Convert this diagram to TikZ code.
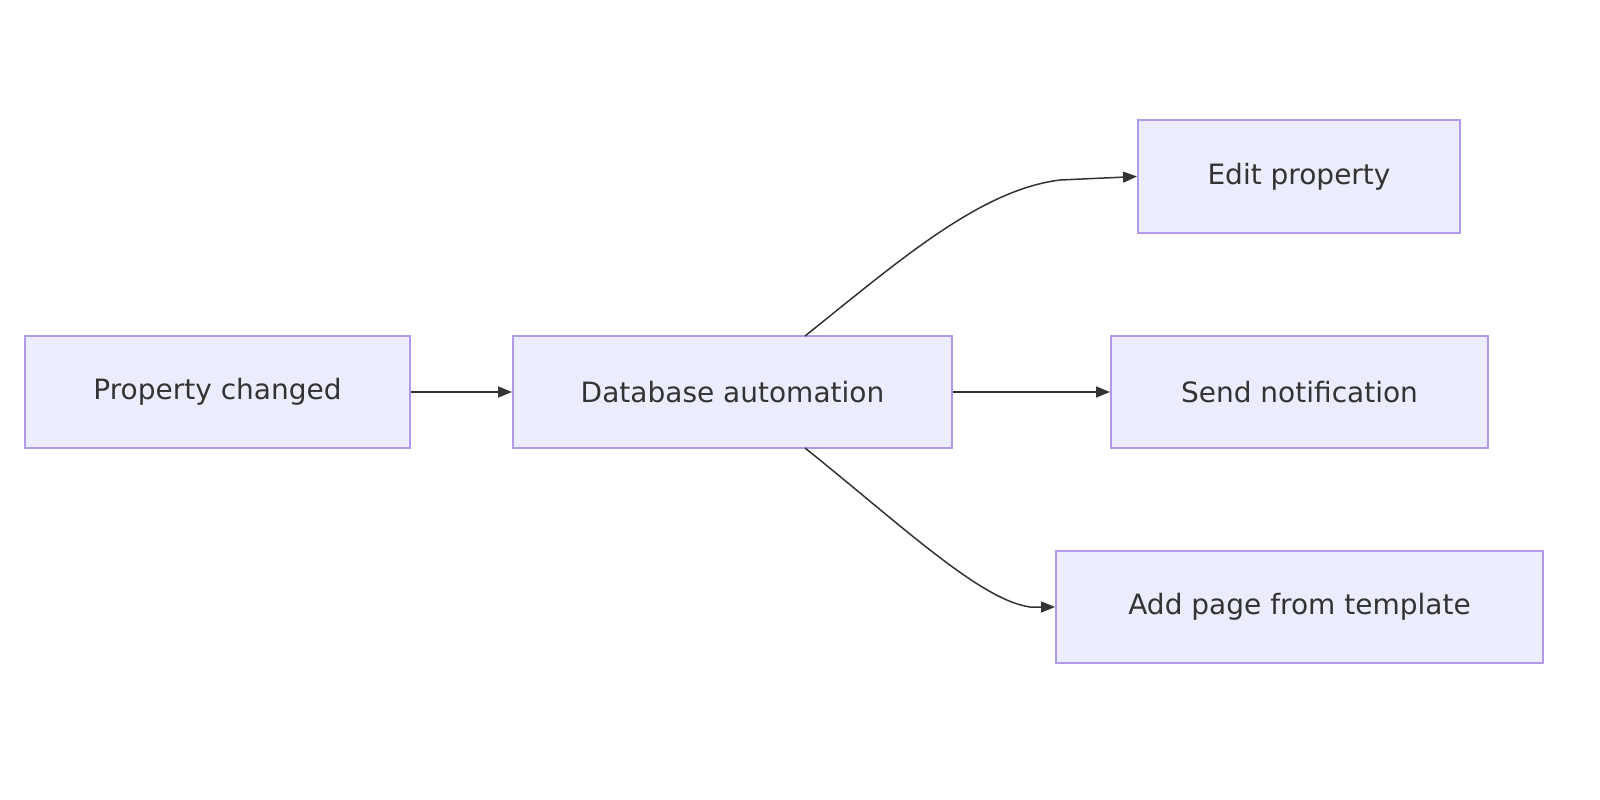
\documentclass[tikz,border=0pt]{standalone}
\usepackage{fontspec}
\setmainfont{DejaVu Sans}
\usetikzlibrary{arrows.meta}
\definecolor{boxfill}{HTML}{ECECFF}
\definecolor{boxline}{HTML}{B39AE8}
\definecolor{edge}{HTML}{333333}
\begin{document}
\begin{tikzpicture}[x=1pt,y=-1pt,
  box/.style={draw=boxline,fill=boxfill,line width=2pt,inner sep=0pt,font=\fontsize{28}{32}\selectfont,text=edge},
  link/.style={draw=edge,line width=1.5pt,-{Triangle[length=14pt,width=11pt]}}]
\useasboundingbox (0,0) rectangle (1600,800);
\node[box,minimum width=385,minimum height=112] (a) at (217.5,392) {Property changed};
\node[box,minimum width=439,minimum height=112] (b) at (732.5,392) {Database automation};
\node[box,minimum width=322,minimum height=113] (c) at (1299,176.5) {Edit property};
\node[box,minimum width=377,minimum height=112] (d) at (1299.5,392) {Send notification};
\node[box,minimum width=487,minimum height=112] (e) at (1299.5,607) {Add page from template};
\draw[link] (a) -- (b);
\draw[link] (b) -- (d);
\coordinate (bt) at (805,336);
\coordinate (bb) at (805,448);
\draw[link] (bt) .. controls (900,260) and (980,190) .. (1060,180) -- (c.west);
\draw[link] (bb) .. controls (900,524) and (980,600) .. (1030,607) -- (e.west);
\end{tikzpicture}
\end{document}
